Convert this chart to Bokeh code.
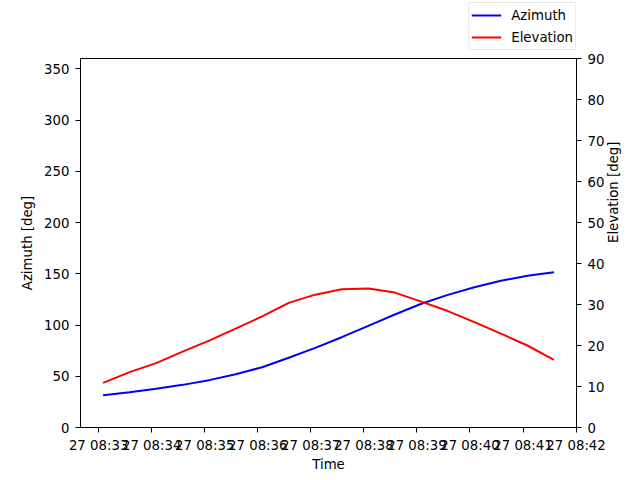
import math
import pandas as pd
from bokeh.plotting import figure
from bokeh.models import (Range1d, LinearAxis, FixedTicker, DatetimeTickFormatter,
                          Legend, LegendItem, ColumnDataSource)
from bokeh.layouts import column
from bokeh.embed import file_html
from bokeh.resources import INLINE

# ---- data ----
times = ["2024-01-27 08:33:05", "2024-01-27 08:33:35", "2024-01-27 08:34:05",
         "2024-01-27 08:34:35", "2024-01-27 08:35:05", "2024-01-27 08:35:35",
         "2024-01-27 08:36:05", "2024-01-27 08:36:35", "2024-01-27 08:37:05",
         "2024-01-27 08:37:35", "2024-01-27 08:38:05", "2024-01-27 08:38:35",
         "2024-01-27 08:39:05", "2024-01-27 08:39:35", "2024-01-27 08:40:05",
         "2024-01-27 08:40:35", "2024-01-27 08:41:05", "2024-01-27 08:41:35"]
azimuth = [31.5, 34.4, 37.7, 41.6, 46.2, 52.0, 58.8, 68.0, 77.7, 88.1,
           99.2, 110.2, 120.7, 129.4, 136.9, 143.1, 148.0, 151.5]
elevation = [10.9, 13.5, 15.7, 18.5, 21.2, 24.1, 27.1, 30.4, 32.4, 33.7,
             33.9, 32.9, 30.7, 28.4, 25.7, 22.9, 20.0, 16.5]
x_ticks = ["2024-01-27 08:33", "2024-01-27 08:34", "2024-01-27 08:35",
           "2024-01-27 08:36", "2024-01-27 08:37", "2024-01-27 08:38",
           "2024-01-27 08:39", "2024-01-27 08:40", "2024-01-27 08:41",
           "2024-01-27 08:42"]
az_ticks = [0, 50, 100, 150, 200, 250, 300, 350]
el_ticks = [0, 10, 20, 30, 40, 50, 60, 70, 80, 90]
series_names = ["Azimuth", "Elevation"]
series_cols = ["az", "el"]
series_colors = ["blue", "red"]

t = pd.to_datetime(times)
src = ColumnDataSource(dict(t=t, az=azimuth, el=elevation))

span = t[-1] - t[0]
x0 = t[0] - span * 0.05
x1 = t[-1] + span * 0.05

FONT = "DejaVu Sans"
FS = "13.3px"

# ---- main chart ----
p = figure(width=640, height=430, x_axis_type="datetime",
           output_backend="svg", toolbar_location=None,
           x_range=Range1d(x0, x1), y_range=Range1d(0, 360),
           min_border_left=80, min_border_right=64,
           min_border_top=8, min_border_bottom=53)
p.extra_y_ranges = {"el": Range1d(0, 90)}
p.grid.visible = False
p.outline_line_color = "black"
p.outline_line_width = 1
p.background_fill_color = "white"
p.border_fill_color = "white"

p.line("t", "az", source=src, color=series_colors[0], line_width=2)
p.line("t", "el", source=src, color=series_colors[1], line_width=2, y_range_name="el")

right = LinearAxis(y_range_name="el")
p.add_layout(right, "right")

tick_ms = [pd.Timestamp(s).value / 1e6 for s in x_ticks]
p.xaxis.ticker = FixedTicker(ticks=tick_ms, minor_ticks=[])
fmt = "%d %H:%M"
p.xaxis.formatter = DatetimeTickFormatter(seconds=fmt, minsec=fmt, minutes=fmt,
                                          hourmin=fmt, hours=fmt, days=fmt)
p.yaxis[0].ticker = FixedTicker(ticks=az_ticks, minor_ticks=[])
right.ticker = FixedTicker(ticks=el_ticks, minor_ticks=[])

p.xaxis.axis_label = "Time"
p.yaxis[0].axis_label = "Azimuth [deg]"
right.axis_label = "Elevation [deg]"

for ax in p.xaxis + p.yaxis:
    ax.axis_line_color = "black"
    ax.major_tick_line_color = "black"
    ax.major_tick_out = 5
    ax.major_tick_in = 0
    ax.minor_tick_out = 0
    ax.minor_tick_in = 0
    ax.major_label_text_font = FONT
    ax.major_label_text_font_size = FS
    ax.major_label_text_color = "black"
    ax.axis_label_text_font = FONT
    ax.axis_label_text_font_size = FS
    ax.axis_label_text_font_style = "normal"
    ax.axis_label_text_color = "black"
    ax.major_label_standoff = 6
    ax.axis_label_standoff = 6

right.axis_label_orientation = math.pi / 2
p.xaxis.axis_label_standoff = 1
p.xaxis.major_label_standoff = 5

# ---- legend strip above the chart ----
lf = figure(width=640, height=50, output_backend="svg", toolbar_location=None,
            x_range=Range1d(0, 1), y_range=Range1d(0, 1),
            x_axis_location=None, y_axis_location=None,
            min_border=0, min_border_left=0, min_border_right=0,
            min_border_top=0, min_border_bottom=0)
lf.grid.visible = False
lf.outline_line_color = None
lf.background_fill_color = "white"
lf.border_fill_color = "white"
# key renderers share the real data (they fall outside this strip's ranges)
key_renderers = [lf.line("t", col, source=src, color=c, line_width=2)
                 for col, c in zip(series_cols, series_colors)]

legend = Legend(items=[LegendItem(label=n, renderers=[r])
                       for n, r in zip(series_names, key_renderers)],
                location="bottom_right", margin=0, padding=2, spacing=2,
                glyph_width=30, glyph_height=20, label_height=20,
                label_standoff=10,
                label_text_font=FONT, label_text_font_size=FS,
                label_text_color="black",
                border_line_color="#d0d0d0", border_line_width=1,
                background_fill_color="white", background_fill_alpha=0.8)
lf.add_layout(legend, "center")

layout = column(lf, p, spacing=0)
open("out.html", "w").write(file_html(layout, INLINE))
